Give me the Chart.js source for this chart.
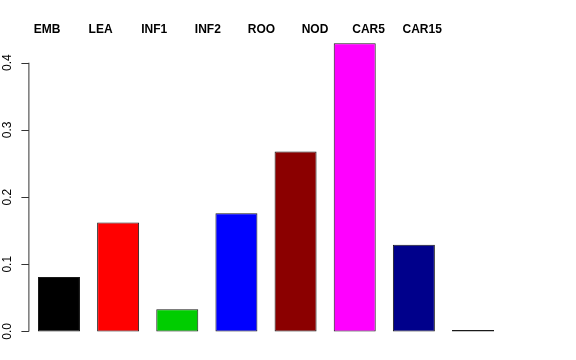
<!DOCTYPE html>
<html lang="en">
<head>
    <meta charset="UTF-8" />
    <title>Bars</title>
    <script src="https://cdn.jsdelivr.net/npm/chart.js@4/dist/chart.umd.min.js"></script>
    <style>
        html, body { margin: 0; padding: 0; background: #fff; }
        #wrap { width: 576px; height: 360px; }
    </style>
</head>
<body>
    <div id="wrap"><canvas id="myChart" width="576" height="360"></canvas></div>
    <script>
        let labels = ['EMB', 'LEA', 'INF1', 'INF2', 'ROO', 'NOD', 'CAR5', 'CAR15']
        let values = [0.081, 0.162, 0.033, 0.176, 0.268, 0.429, 0.129, 0.002]
        let colors = ['#000000', '#ff0000', '#00cd00', '#0000ff', '#8b0000', '#ff00ff', '#00008b', '#555555']
        let yTicks = [0.0, 0.1, 0.2, 0.3, 0.4]

        // draws the R style axis on the left and the names along the top
        const rAxis = {
            id: 'rAxis',
            afterDraw(chart) {
                let ctx = chart.ctx
                let y = chart.scales.y
                let top = chart.scales.xTop
                let x0 = chart.chartArea.left
                ctx.save()
                ctx.strokeStyle = '#333'
                ctx.lineWidth = 1
                ctx.beginPath()
                ctx.moveTo(x0 - 0.5, y.getPixelForValue(yTicks[0]))
                ctx.lineTo(x0 - 0.5, y.getPixelForValue(yTicks[yTicks.length - 1]))
                yTicks.forEach(t => {
                    let py = Math.round(y.getPixelForValue(t)) + 0.5
                    ctx.moveTo(x0 - 0.5, py)
                    ctx.lineTo(x0 - 8, py)
                })
                ctx.stroke()
                ctx.fillStyle = '#000'
                ctx.font = '12px "Liberation Sans"'
                ctx.textAlign = 'center'
                ctx.textBaseline = 'middle'
                yTicks.forEach(t => {
                    ctx.save()
                    ctx.translate(x0 - 22, y.getPixelForValue(t))
                    ctx.rotate(-Math.PI / 2)
                    ctx.fillText(t.toFixed(1), 0, 0)
                    ctx.restore()
                })
                ctx.font = 'bold 12px "Liberation Sans"'
                labels.forEach((name, i) => {
                    ctx.fillText(name, top.getPixelForValue(i), 29.5)
                })
                ctx.restore()
            }
        }

        new Chart(document.getElementById('myChart'), {
            type: 'bar',
            data: {
                labels: labels,
                datasets: [{
                    data: values,
                    backgroundColor: colors,
                    borderColor: '#1a1a1a',
                    borderWidth: 1,
                    borderSkipped: false,
                    barPercentage: 0.71,
                    categoryPercentage: 1
                }]
            },
            options: {
                responsive: false,
                animation: false,
                layout: { padding: { left: 29.4, right: 73.4, top: 31.6, bottom: 17 } },
                plugins: { legend: { display: false }, tooltip: { enabled: false } },
                scales: {
                    x: { display: false, offset: true, grid: { display: false } },
                    xTop: { type: 'linear', position: 'top', display: false, offset: false, min: -0.329, max: 8.501 },
                    y: { display: false, min: -0.0172, max: 0.4463 }
                }
            },
            plugins: [rAxis]
        });
    </script>
</body>
</html>
